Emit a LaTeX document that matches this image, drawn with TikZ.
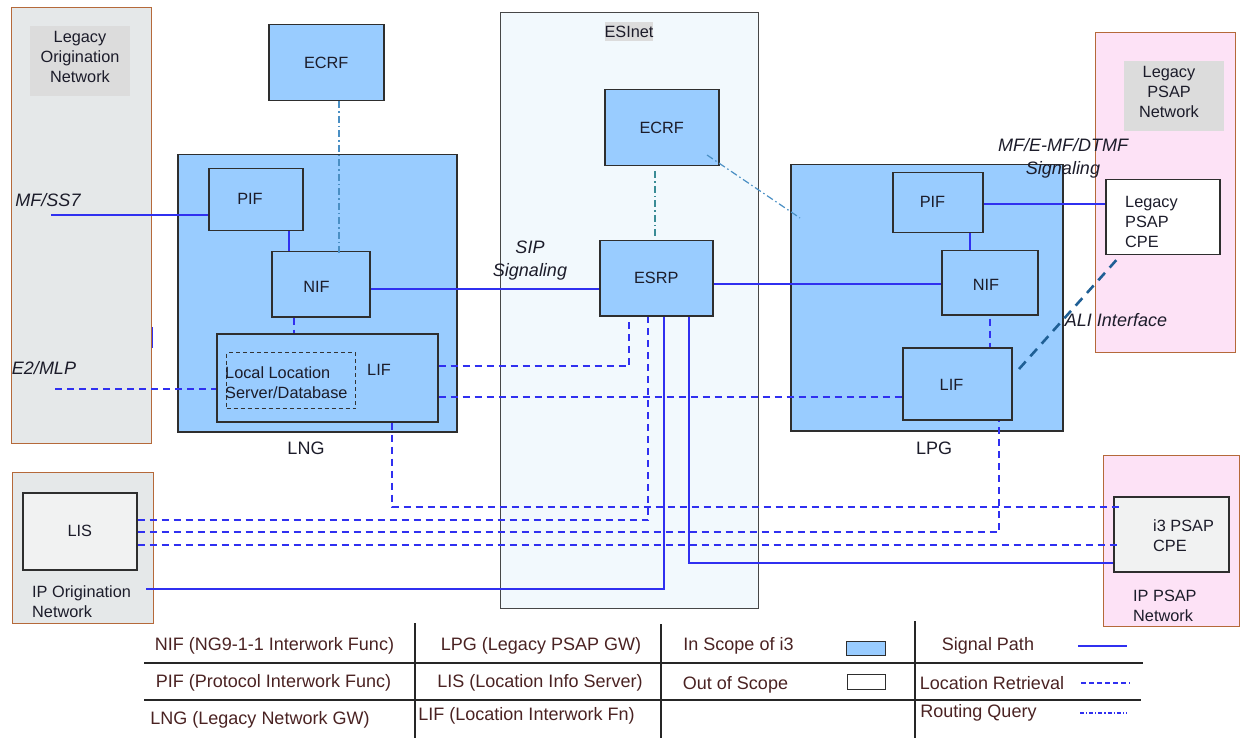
\documentclass[tikz,border=0pt]{standalone}
\usepackage{fontspec}
\setmainfont{Liberation Sans}
\usetikzlibrary{calc}

\definecolor{inscope}{HTML}{99CCFF}
\definecolor{netedge}{HTML}{B5693A}
\definecolor{legacygray}{HTML}{E5E8E9}
\definecolor{tagfill}{HTML}{DCDCDC}
\definecolor{esifill}{HTML}{F2F9FD}
\definecolor{psappink}{HTML}{FDE2F6}
\definecolor{boxedge}{HTML}{2E2E2E}
\definecolor{paleface}{HTML}{F1F2F2}
\definecolor{sigblue}{HTML}{3030F0}
\definecolor{rqblue}{HTML}{4A8FC4}
\definecolor{rqteal}{HTML}{3A8C96}
\definecolor{alidark}{HTML}{1F5F95}
\definecolor{inktext}{HTML}{1C1C2A}
\definecolor{legendtext}{HTML}{4A2222}

% box from its top-left (x1,y1) to bottom-right (x2,y2): style, name, x1, y1, x2, y2, text
\newcommand{\placebox}[7]{%
  \node[#1, anchor=north west, minimum width={#5pt-#3pt}, minimum height={#6pt-#4pt}] (#2) at (#3,#4) {#7};}

\tikzset{
  net/.style={rectangle, draw=netedge, line width=1.4pt, inner sep=0pt},
  fn/.style={rectangle, draw=boxedge, fill=inscope, line width=1.5pt, inner sep=0pt,
             font=\fontsize{16.3}{20}\selectfont, text=inktext},
  plain/.style={rectangle, draw=boxedge, line width=1.5pt, inner sep=0pt,
             font=\fontsize{16.3}{20}\selectfont, text=inktext},
  tag/.style={rectangle, fill=tagfill, inner sep=0pt},
  lbl/.style={font=\fontsize{16.3}{20}\selectfont, text=inktext, inner sep=0pt, align=center},
  lbll/.style={font=\fontsize{16.3}{20}\selectfont, text=inktext, inner sep=0pt, align=left, anchor=west},
  gwname/.style={font=\fontsize{18}{21}\selectfont, text=inktext, inner sep=0pt},
  ital/.style={font=\fontsize{18}{23}\selectfont\itshape, text=inktext, inner sep=0pt, align=center},
  legend/.style={font=\fontsize{18}{20}\selectfont, text=legendtext, inner sep=0pt},
  sig/.style={draw=sigblue, line width=1.3pt},
  loc/.style={draw=sigblue, line width=1.3pt, dash pattern=on 7pt off 5pt},
  rq/.style={draw=rqblue, line width=1.2pt, dash pattern=on 7pt off 3pt on 1.5pt off 3pt},
  ali/.style={draw=alidark, line width=2.6pt, dash pattern=on 10pt off 7pt},
  rule/.style={draw=black!85, line width=1.6pt},
}

\begin{document}
\begin{tikzpicture}[x=1pt, y=-1pt]
\useasboundingbox (0,0) rectangle (1240,738);

% ---------- networks ----------
\placebox{net, fill=legacygray}{lon}{11}{7}{151}{443}{}
\placebox{tag}{lontag}{30}{26}{130}{96}{}
\node[lbl] (lontxt) at (80,57) {Legacy\\Origination\\Network};

\placebox{net, fill=legacygray}{ipon}{12}{472}{153}{623}{}
\node[lbll] (ipontxt) at (32,602) {IP Origination\\Network};

\placebox{rectangle, draw=black!72, line width=1.4pt, fill=esifill}{esinet}{500}{12}{758}{608}{}
\node[tag, lbl, minimum width=48pt, minimum height=19pt] (esitag) at (629,32) {ESInet};

\placebox{net, fill=psappink}{lpsapnet}{1095}{32}{1235}{352}{}
\placebox{tag}{lpsaptag}{1124}{61}{1224}{131}{}
\node[lbl] (lpsaptxt) at (1169,92) {Legacy\\PSAP\\Network};

\placebox{net, fill=psappink}{ippsapnet}{1103}{455}{1239}{626}{}
\node[lbll] (ippsaptxt) at (1133,606) {IP PSAP\\Network};

% ---------- legacy network gateway ----------
\placebox{fn}{ecrfA}{268}{24}{383}{100}{ECRF}
\placebox{fn}{lng}{177}{154}{456}{431}{}
\node[gwname] (lngtxt) at (306,448) {LNG};
\placebox{fn}{pifA}{208}{168}{302}{230}{}
\node[lbl] (pifAtxt) at (250,199) {PIF};
\placebox{fn}{nifA}{271}{251}{369}{316}{}
\node[lbl] (nifAtxt) at (316.5,287) {NIF};
\placebox{fn}{lifA}{216}{333}{437}{421}{}
\node[lbl] (lifAtxt) at (379,370) {LIF};
\placebox{rectangle, draw=black!80, line width=1.2pt, dash pattern=on 4pt off 3pt, inner sep=0pt}{lls}{226}{352}{355}{408}{}
\node[lbll, align=left] (llstxt) at (225,383) {Local Location\\Server/Database};

% ---------- ESInet ----------
\placebox{fn}{ecrfB}{604}{89}{718}{165}{ECRF}
\placebox{fn}{esrp}{599}{240}{712}{315}{ESRP}

% ---------- legacy PSAP gateway ----------
\placebox{fn}{lpg}{790}{164}{1062}{430}{}
\node[gwname] (lpgtxt) at (934,448.5) {LPG};
\placebox{fn}{pifB}{892}{172}{982}{232}{}
\node[lbl] (pifBtxt) at (932.5,202) {PIF};
\placebox{fn}{nifB}{941}{250}{1037}{314}{}
\node[lbl] (nifBtxt) at (986,285) {NIF};
\placebox{fn}{lifB}{902}{347}{1011}{419}{}
\node[lbl] (lifBtxt) at (951.5,385) {LIF};

% ---------- PSAP equipment ----------
\placebox{plain, fill=white}{lpsapcpe}{1105}{179}{1219}{254}{}
\node[lbll] (lpsapcpetxt) at (1125,222) {Legacy\\PSAP\\CPE};
\placebox{plain, fill=paleface}{lis}{22}{492}{136}{569}{LIS}
\placebox{plain, fill=paleface}{i3cpe}{1113}{496}{1228}{571}{}
\node[lbll] (i3cpetxt) at (1153,536) {i3 PSAP\\CPE};

% ---------- reference coordinates for connector routes ----------
\coordinate (mfss7) at (51,215);
\coordinate (e2mlp) at (55,389);
\coordinate (ipout) at (146,589);
\coordinate (x289) at (289,0);
\coordinate (x294) at (294,0);
\coordinate (x339) at (339,0);
\coordinate (x392) at (392,0);
\coordinate (x648) at (648,0);
\coordinate (x655) at (655,0);
\coordinate (x664) at (664,0);
\coordinate (x689) at (689,0);
\coordinate (x970) at (970,0);
\coordinate (x990) at (990,0);
\coordinate (x999) at (999,0);
\coordinate (y204) at (0,204);
\coordinate (y284) at (0,284);
\coordinate (y289) at (0,289);
\coordinate (y327) at (0,327);
\coordinate (y348) at (0,348);
\coordinate (y366) at (0,366);
\coordinate (y397) at (0,397);
\coordinate (y520) at (0,520);
\coordinate (y532) at (0,532);
\coordinate (y545) at (0,545);
\coordinate (y563) at (0,563);
\coordinate (lifAup) at (629,322);
\coordinate (lifAdown) at (1120,507);
\coordinate (lisend) at (1117,545);
\coordinate (nifAtop) at (339,255);
\coordinate (ecrfBcorner) at (707,155);
\coordinate (lpgedge) at (800,218);
\coordinate (alilow) at (1019,369);
\coordinate (alihigh) at (1120,256);

% ---------- signal paths ----------
\draw[sig] (mfss7) -- (mfss7 -| pifA.west);
\draw[sig] (x289 |- pifA.south) -- (x289 |- nifA.north);
\draw[sig] (nifA.east |- y289) -- (esrp.west |- y289);
\draw[sig] (esrp.east |- y284) -- (nifB.west |- y284);
\draw[sig] (x970 |- pifB.south) -- (x970 |- nifB.north);
\draw[sig] (pifB.east |- y204) -- (lpsapcpe.west |- y204);
\draw[sig] (x689 |- esrp.south) |- (i3cpe.west |- y563);
\draw[sig] (ipout) -| (x664 |- esrp.south);
\draw[sig] (lon.east |- y327) -- (lon.east |- y348);

% ---------- location retrieval ----------
\draw[loc] (e2mlp) -- (e2mlp -| lifA.west);
\draw[loc] (x294 |- nifA.south) -- (x294 |- lifA.north);
\draw[loc] (lifA.east |- y366) -| (lifAup);
\draw[loc] (lifA.east |- y397) -- (lifB.west |- y397);
\draw[loc] (x392 |- lifA.south) |- (lifAdown);
\draw[loc] (lis.east |- y520) -| (x648 |- esrp.south);
\draw[loc] (lis.east |- y532) -| (x999 |- lifB.south);
\draw[loc] (lis.east |- y545) -- (lisend);
\draw[loc] ([yshift=-3pt]x990 |- nifB.south) -- (x990 |- lifB.north);

% ---------- routing queries ----------
\draw[rq] (x339 |- ecrfA.south) -- (nifAtop);
\draw[rq, draw=rqteal, shorten <=5pt, shorten >=4pt] (x655 |- ecrfB.south) -- (x655 |- esrp.north);
\draw[rq] (ecrfBcorner) -- (lpgedge);

% ---------- ALI interface ----------
\draw[ali] (alilow) -- (alihigh);

% ---------- interface labels ----------
\node[ital] (mfss7txt) at (48,200) {MF/SS7};
\node[ital] (e2mlptxt) at (44,368) {E2/MLP};
\node[ital] (siptxt) at (530,261) {SIP\\Signaling};
\node[ital] (mftxt) at (1063,158) {MF/E-MF/DTMF\\Signaling};
\node[ital] (alitxt) at (1116,320) {ALI Interface};

% ---------- legend ----------
\coordinate (lgA) at (415,623);
\coordinate (lgB) at (661,624);
\coordinate (lgC) at (915,621);
\coordinate (lgL1) at (144,663);
\coordinate (lgR1) at (1143,663);
\coordinate (lgL2) at (144,700);
\coordinate (lgR2) at (1141,700);
\draw[rule] (lgA) -- (lgA |- 0,738);
\draw[rule] (lgB) -- (lgB |- 0,738);
\draw[rule] (lgC) -- (lgC |- 0,738);
\draw[rule, line width=1.3pt] (lgL1) -- (lgR1);
\draw[rule, line width=1.3pt] (lgL2) -- (lgR2);

\node[legend] (lg1) at (274.5,646) {NIF (NG9-1-1 Interwork Func)};
\node[legend] (lg2) at (273.5,683) {PIF (Protocol Interwork Func)};
\node[legend] (lg3) at (260,720) {LNG (Legacy Network GW)};
\node[legend] (lg4) at (541,646) {LPG (Legacy PSAP GW)};
\node[legend] (lg5) at (540,683) {LIS (Location Info Server)};
\node[legend] (lg6) at (526.5,716) {LIF (Location Interwork Fn)};
\node[legend] (lg7) at (738.5,646) {In Scope of i3};
\node[legend] (lg8) at (735.5,685) {Out of Scope};
\node[legend] (lg9) at (988,646) {Signal Path};
\node[legend] (lg10) at (992,683) {Location Retrieval};
\node[legend] (lg11) at (978.5,713) {Routing Query};

\placebox{rectangle, draw=boxedge, fill=inscope, line width=1.3pt, inner sep=0pt}{swin}{846}{641}{885}{655}{}
\placebox{rectangle, draw=boxedge, fill=white, line width=1.3pt, inner sep=0pt}{swout}{847}{674}{885}{689}{}

\coordinate (ksig) at (1078,646);
\coordinate (kloc) at (1081,683);
\coordinate (krq) at (1080,713);
\draw[sig, line width=1.2pt] (ksig) -- ++(49,0);
\draw[loc, line width=1.2pt, dash pattern=on 5pt off 3pt] (kloc) -- ++(49,0);
\draw[draw=sigblue, line width=1.1pt, dash pattern=on 4pt off 2pt on 1.2pt off 2pt] (krq) -- ++(47,0);

\end{tikzpicture}
\end{document}
